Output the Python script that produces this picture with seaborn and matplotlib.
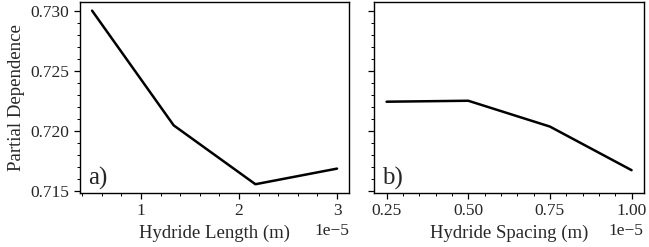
import pandas as pd
import seaborn as sns
import matplotlib.pyplot as plt

# partial dependence values
length_m = [0.5e-5, 1.333e-5, 2.167e-5, 3.0e-5]
length_pd = [0.7300, 0.72045, 0.71555, 0.71685]

spacing_m = [0.25e-5, 0.50e-5, 0.75e-5, 1.00e-5]
spacing_pd = [0.72242, 0.72250, 0.72035, 0.71672]

spacing_ticks = [0.25e-5, 0.50e-5, 0.75e-5, 1.00e-5]
pd_ticks = [0.715, 0.720, 0.725, 0.730]
pd_ticklabels = ["0.715", "0.720", "0.725", "0.730"]

sns.set_theme(style="ticks")
plt.rcParams["font.family"] = ["Liberation Serif", "DejaVu Serif"]
plt.rcParams["axes.linewidth"] = 1.0

df_len = pd.DataFrame({"x": length_m, "y": length_pd})
df_sp = pd.DataFrame({"x": spacing_m, "y": spacing_pd})

fig, axes = plt.subplots(1, 2, figsize=(6.49, 2.47), dpi=100, sharey=True)

sns.lineplot(data=df_len, x="x", y="y", ax=axes[0], color="black", linewidth=1.8)
sns.lineplot(data=df_sp, x="x", y="y", ax=axes[1], color="black", linewidth=1.8)

fs = 13.5
axes[0].set_xlabel("Hydride Length (m)", fontsize=fs)
axes[1].set_xlabel("Hydride Spacing (m)", fontsize=fs)
axes[0].set_ylabel("Partial Dependence", fontsize=fs)
axes[1].set_ylabel("")

axes[1].set_xticks(spacing_ticks)

for ax, tag in zip(axes, ["a)", "b)"]):
    ax.minorticks_on()
    ax.tick_params(which="major", labelsize=12.5, color="black", length=4.5,
                   width=0.9, pad=3)
    ax.tick_params(which="minor", color="black", length=2.3, width=0.7)
    ax.xaxis.get_offset_text().set_fontsize(12.5)
    for s in ax.spines.values():
        s.set_color("black")
    ax.text(0.03, 0.015, tag, transform=ax.transAxes, fontsize=18,
            ha="left", va="bottom")

axes[0].set_yticks(pd_ticks)
axes[0].set_yticklabels(pd_ticklabels)

plt.subplots_adjust(left=0.123, right=0.992, top=0.992, bottom=0.219, wspace=0.093)
plt.savefig("out.png", dpi=100)
